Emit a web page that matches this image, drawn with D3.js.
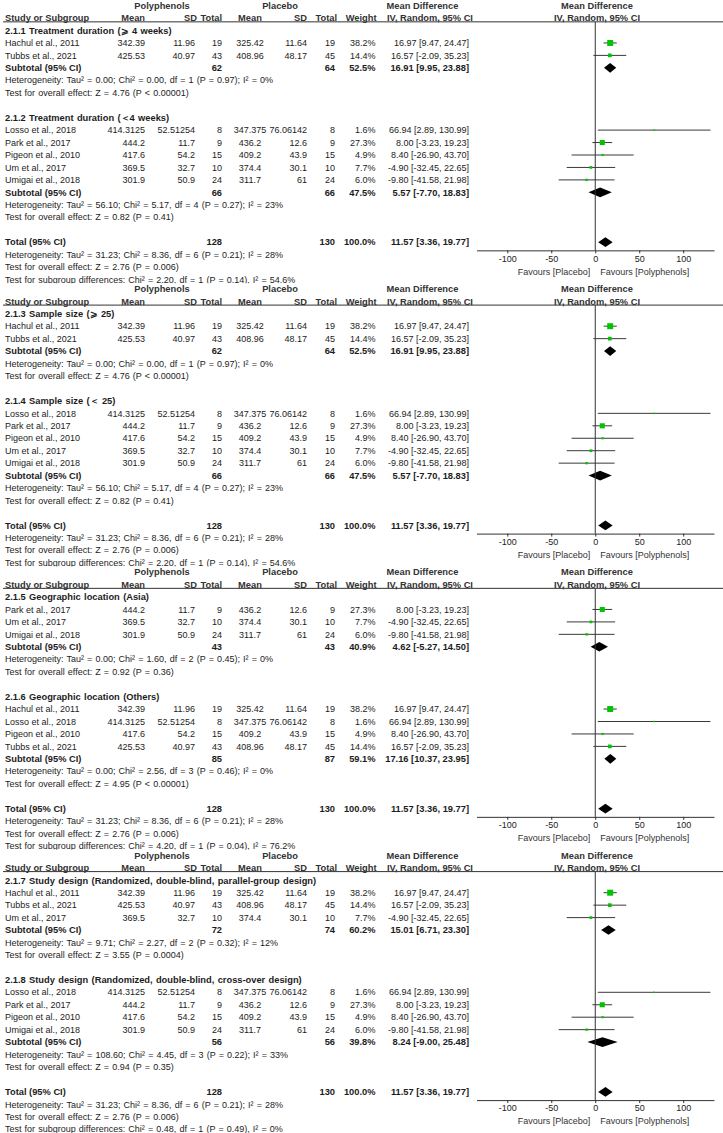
<!DOCTYPE html>
<html><head><meta charset="utf-8">
<script src="https://cdn.jsdelivr.net/npm/d3@7"></script>
<style>body{margin:0;background:#fff}svg{display:block}text{font-family:"Liberation Sans",Arial,sans-serif}</style>
</head><body><svg id="c" width="723" height="1133"></svg>
<script>
// ---- study-level data ----
const studyNames = ["Hachul et al., 2011","Tubbs et al., 2021","Losso et al., 2018","Park et al., 2017","Pigeon et al., 2010","Um et al., 2017","Umigai et al., 2018"];
const polyMean = [342.39, 425.53, 414.3125, 444.2, 417.6, 369.5, 301.9];
const polySD   = [11.96, 40.97, 52.51254, 11.7, 54.2, 32.7, 50.9];
const polyN    = [19, 43, 8, 9, 15, 10, 24];
const placMean = [325.42, 408.96, 347.375, 436.2, 409.2, 374.4, 311.7];
const placSD   = [11.64, 48.17, 76.06142, 12.6, 43.9, 30.1, 61];
const placN    = [19, 45, 8, 9, 15, 10, 24];
const weights  = [38.2, 14.4, 1.6, 27.3, 4.9, 7.7, 6.0];
const md       = [16.97, 16.57, 66.94, 8.00, 8.40, -4.90, -9.80];
const mdLo     = [9.47, -2.09, 2.89, -3.23, -26.90, -32.45, -41.58];
const mdHi     = [24.47, 35.23, 130.99, 19.23, 43.70, 22.65, 21.98];

// ---- subgroup data ----
const subgroupTitles = ["2.1.1 Treatment duration (\u2A7E 4 weeks)","2.1.2 Treatment duration (\uFF1C4 weeks)",
  "2.1.3 Sample size (\u2A7E 25)","2.1.4 Sample size (\uFF1C 25)",
  "2.1.5 Geographic location (Asia)","2.1.6 Geographic location (Others)",
  "2.1.7 Study design (Randomized, double-blind, parallel-group design)","2.1.8 Study design (Randomized, double-blind, cross-over design)"];
const subgroupStudies = [[0,1],[2,3,4,5,6],[0,1],[2,3,4,5,6],[3,5,6],[0,2,4,1],[0,1,5],[2,3,4,6]];
const subgroupN1 = [62,66,62,66,43,85,72,56];
const subgroupN2 = [64,66,64,66,43,87,74,56];
const subgroupWeight = [52.5,47.5,52.5,47.5,40.9,59.1,60.2,39.8];
const subgroupMD = [16.91,5.57,16.91,5.57,4.62,17.16,15.01,8.24];
const subgroupLo = [9.95,-7.70,9.95,-7.70,-5.27,10.37,6.71,-9.00];
const subgroupHi = [23.88,18.83,23.88,18.83,14.50,23.95,23.30,25.48];
const subgroupHet = ["Tau\u00B2 = 0.00; Chi\u00B2 = 0.00, df = 1 (P = 0.97); I\u00B2 = 0%",
  "Tau\u00B2 = 56.10; Chi\u00B2 = 5.17, df = 4 (P = 0.27); I\u00B2 = 23%",
  "Tau\u00B2 = 0.00; Chi\u00B2 = 0.00, df = 1 (P = 0.97); I\u00B2 = 0%",
  "Tau\u00B2 = 56.10; Chi\u00B2 = 5.17, df = 4 (P = 0.27); I\u00B2 = 23%",
  "Tau\u00B2 = 0.00; Chi\u00B2 = 1.60, df = 2 (P = 0.45); I\u00B2 = 0%",
  "Tau\u00B2 = 0.00; Chi\u00B2 = 2.56, df = 3 (P = 0.46); I\u00B2 = 0%",
  "Tau\u00B2 = 9.71; Chi\u00B2 = 2.27, df = 2 (P = 0.32); I\u00B2 = 12%",
  "Tau\u00B2 = 108.60; Chi\u00B2 = 4.45, df = 3 (P = 0.22); I\u00B2 = 33%"];
const subgroupZ = ["Z = 4.76 (P < 0.00001)","Z = 0.82 (P = 0.41)","Z = 4.76 (P < 0.00001)","Z = 0.82 (P = 0.41)",
  "Z = 0.92 (P = 0.36)","Z = 4.95 (P < 0.00001)","Z = 3.55 (P = 0.0004)","Z = 0.94 (P = 0.35)"];
const subgroupDiffTests = ["Chi\u00B2 = 2.20, df = 1 (P = 0.14), I\u00B2 = 54.6%","Chi\u00B2 = 2.20, df = 1 (P = 0.14), I\u00B2 = 54.6%",
  "Chi\u00B2 = 4.20, df = 1 (P = 0.04), I\u00B2 = 76.2%","Chi\u00B2 = 0.48, df = 1 (P = 0.49), I\u00B2 = 0%"];

// ---- overall ----
const totalN1 = 128, totalN2 = 130, totalWeight = 100.0;
const totalMD = 11.57, totalLo = 3.36, totalHi = 19.77;
const totalHet = "Tau\u00B2 = 31.23; Chi\u00B2 = 8.36, df = 6 (P = 0.21); I\u00B2 = 28%";
const totalZ = "Z = 2.76 (P = 0.006)";
const axisTicks = [-100, -50, 0, 50, 100];
const favoursLeft = "Favours [Placebo]", favoursRight = "Favours [Polyphenols]";

// ---- layout ----
const W = 723, H = 1133, panelH = H / 4;
const rowH = 12.45, row0 = 5.6, FS = 9.0, FB = 9.3;
const X = {study: 5, pm: 145, psd: 195, pn: 222, cmC: 250, csd: 307, cn: 335, w: 375.5, mdL: 387, mdR: 469, polyC: 162, placC: 280, fC: 597};
const x = d3.scaleLinear().domain([-135, 135]).range([476.5, 714]);
const fmt2 = v => v.toFixed(2);
const ciText = (m, l, h) => `${fmt2(m)} [${fmt2(l)}, ${fmt2(h)}]`;
const ink = "#1c1c1c";

const svg = d3.select("#c");
const defs = svg.append("defs");

for (let p = 0; p < 4; p++) {
  defs.append("clipPath").attr("id", "cp" + p).append("rect").attr("x", 0).attr("y", 0).attr("width", W).attr("height", panelH);
  const g = svg.append("g").attr("transform", `translate(0,${p * panelH})`).append("g").attr("clip-path", `url(#cp${p})`);
  const ry = i => row0 + i * rowH;
  const txt = (xx, i, s, anchor = "start", bold = false, fill = ink) =>
    g.append("text").attr("x", xx).attr("y", ry(i)).attr("dy", "0.35em").attr("text-anchor", anchor)
      .attr("font-size", bold ? FB : FS).attr("font-weight", bold ? "bold" : "normal").attr("fill", fill).text(s);
  const note = (i, s) => txt(X.study, i, s).attr("word-spacing", 0.6);

  // headers
  const hc = "#333";
  txt(X.polyC, 0, "Polyphenols", "middle", true, hc);
  txt(X.placC, 0, "Placebo", "middle", true, hc);
  txt(X.mdL + 35.5, 0, "Mean Difference", "middle", true, hc);
  txt(X.fC, 0, "Mean Difference", "middle", true, hc);
  txt(X.study, 1, "Study or Subgroup", "start", true, hc);
  txt(X.pm, 1, "Mean", "end", true, hc);
  txt(X.psd + 2, 1, "SD", "end", true, hc);
  txt(X.pn, 1, "Total", "end", true, hc);
  txt(X.cmC, 1, "Mean", "middle", true, hc);
  txt(X.csd, 1, "SD", "end", true, hc);
  txt(X.cn + 2, 1, "Total", "end", true, hc);
  txt(X.w + 1, 1, "Weight", "end", true, hc);
  txt(X.mdL, 1, "IV, Random, 95% CI", "start", true, hc);
  txt(X.fC, 1, "IV, Random, 95% CI", "middle", true, hc);
  const lineY = ry(1) + 3.8;
  g.append("line").attr("x1", 3).attr("x2", W).attr("y1", lineY).attr("y2", lineY).attr("stroke", "#333").attr("stroke-width", 1);

  const drawDiamond = (i, m, l, h) => {
    const yc = ry(i), hh = 4.8;
    g.append("path").attr("d", `M${x(l)},${yc}L${x(m)},${yc - hh}L${x(h)},${yc}L${x(m)},${yc + hh}Z`).attr("fill", "#000");
  };

  let row = 2;
  const sgs = [2 * p, 2 * p + 1];
  sgs.forEach(sg => {
    txt(X.study, row, subgroupTitles[sg], "start", true).attr("word-spacing", 0.8);
    row++;
    subgroupStudies[sg].forEach(s => {
      txt(X.study, row, studyNames[s]);
      txt(X.pm, row, String(polyMean[s]), "end");
      txt(X.psd, row, String(polySD[s]), "end");
      txt(X.pn, row, String(polyN[s]), "end");
      txt(X.cmC, row, String(placMean[s]), "middle");
      txt(X.csd, row, String(placSD[s]), "end");
      txt(X.cn, row, String(placN[s]), "end");
      txt(X.w, row, weights[s].toFixed(1) + "%", "end");
      txt(X.mdR, row, ciText(md[s], mdLo[s], mdHi[s]), "end");
      const yc = ry(row);
      g.append("line").attr("x1", x(mdLo[s])).attr("x2", x(mdHi[s])).attr("y1", yc).attr("y2", yc).attr("stroke", "#3a3a3a").attr("stroke-width", 1);
      const side = Math.max(1.5, 0.97 * Math.sqrt(weights[s]));
      g.append("rect").attr("x", x(md[s]) - side / 2).attr("y", yc - side / 2).attr("width", side).attr("height", side).attr("fill", "#00c400");
      row++;
    });
    txt(X.study, row, "Subtotal (95% CI)", "start", true);
    txt(X.pn, row, String(subgroupN1[sg]), "end", true);
    txt(X.cn, row, String(subgroupN2[sg]), "end", true);
    txt(X.w, row, subgroupWeight[sg].toFixed(1) + "%", "end", true);
    txt(X.mdR, row, ciText(subgroupMD[sg], subgroupLo[sg], subgroupHi[sg]), "end", true);
    drawDiamond(row, subgroupMD[sg], subgroupLo[sg], subgroupHi[sg]);
    row++;
    note(row, "Heterogeneity: " + subgroupHet[sg]); row++;
    note(row, "Test for overall effect: " + subgroupZ[sg]); row++;
    row++;
  });
  const totalRow = row;
  txt(X.study, row, "Total (95% CI)", "start", true);
  txt(X.pn, row, String(totalN1), "end", true);
  txt(X.cn, row, String(totalN2), "end", true);
  txt(X.w, row, totalWeight.toFixed(1) + "%", "end", true);
  txt(X.mdR, row, ciText(totalMD, totalLo, totalHi), "end", true);
  drawDiamond(row, totalMD, totalLo, totalHi);
  row++;
  note(row, "Heterogeneity: " + totalHet); row++;
  note(row, "Test for overall effect: " + totalZ); row++;
  note(row, "Test for subgroup differences: " + subgroupDiffTests[p]); row++;

  // axis
  const axY = ry(totalRow) + 8.2;
  g.append("line").attr("x1", x(0)).attr("x2", x(0)).attr("y1", lineY).attr("y2", axY).attr("stroke", "#333").attr("stroke-width", 1);
  const ax = g.append("g").attr("transform", `translate(0,${axY})`)
    .call(d3.axisBottom(x).tickValues(axisTicks).tickSize(3).tickSizeOuter(0).tickPadding(2).tickFormat(d => String(d)));
  ax.select(".domain").attr("stroke", "#333");
  ax.selectAll(".tick line").attr("stroke", "#333");
  ax.selectAll(".tick text").attr("font-size", FS).attr("fill", ink).attr("font-family", "Liberation Sans, Arial, sans-serif");
  g.append("text").attr("x", x(0) - 5).attr("y", axY + 21).attr("dy", "0.35em").attr("text-anchor", "end").attr("font-size", FS).attr("fill", "#333").text(favoursLeft);
  g.append("text").attr("x", x(0) + 5).attr("y", axY + 21).attr("dy", "0.35em").attr("text-anchor", "start").attr("font-size", FS).attr("fill", "#333").text(favoursRight);
}
</script></body></html>
